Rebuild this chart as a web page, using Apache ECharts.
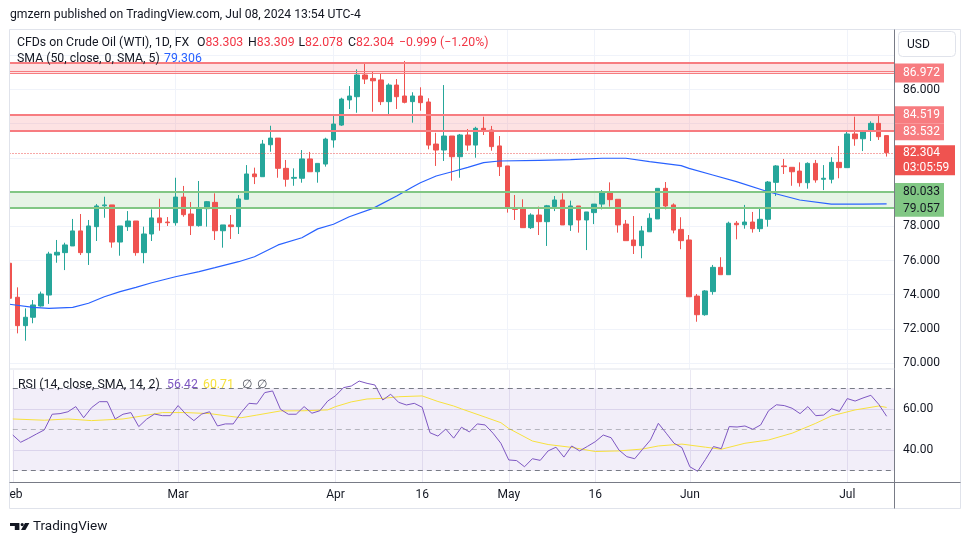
<!DOCTYPE html>
<html><head><meta charset="utf-8">
<script src="https://cdn.jsdelivr.net/npm/echarts@6/dist/echarts.min.js"></script>
<style>html,body{margin:0;padding:0;background:#fff}#c{width:970px;height:545px}</style>
</head><body><div id="c"></div>
<script>
// ---------- DATA ----------
const tradingDays = {
  Feb: [1,2,5,6,7,8,9,12,13,14,15,16,19,20,21,22,23,26,27,28,29],
  Mar: [1,4,5,6,7,8,11,12,13,14,15,18,19,20,21,22,25,26,27,28],
  Apr: [1,2,3,4,5,8,9,10,11,12,15,16,17,18,19,22,23,24,25,26,29,30],
  May: [1,2,3,6,7,8,9,10,13,14,15,16,17,20,21,22,23,24,27,28,29,30,31],
  Jun: [3,4,5,6,7,10,11,12,13,14,17,18,19,20,21,24,25,26,27,28],
  Jul: [1,2,3,4,5,8]
};
const timeTickLabels = {'Feb 1':'Feb','Mar 1':'Mar','Apr 1':'Apr','Apr 16':'16','May 1':'May','May 16':'16','Jun 3':'Jun','Jul 1':'Jul'};

const opens = [75.84,73.85,72.19,72.68,73.34,73.98,76.32,76.46,76.85,77.73,76.46,77.98,79.20,79.25,77.08,77.98,78.31,76.46,77.55,78.49,78.25,
  78.21,79.71,78.72,78.04,79.03,79.40,77.74,78.08,77.98,79.58,81.06,80.90,82.77,83.16,81.39,80.81,80.81,81.94,81.19,81.64,
  83.05,83.92,85.39,85.58,86.85,86.65,86.56,85.29,86.26,85.62,85.29,85.62,85.27,82.81,82.46,83.28,82.07,83.34,82.75,83.73,83.63,82.70,
  81.53,79.09,79.01,77.92,78.66,78.27,79.15,79.54,78.08,79.19,78.37,78.80,79.30,79.96,79.58,78.13,77.20,76.87,77.68,78.43,80.22,79.25,77.82,
  77.20,73.92,72.83,74.18,75.60,75.17,78.18,78.09,78.25,77.86,78.41,80.57,81.53,81.45,81.23,80.55,81.68,80.75,80.75,81.74,
  81.43,83.40,83.12,83.57,84.02,83.303];
const highs = [76.12,74.43,73.20,73.69,74.18,76.51,77.20,77.04,78.43,78.72,78.37,79.30,79.73,79.25,78.02,78.89,78.31,77.98,78.99,79.61,78.54,
  80.84,80.36,79.42,80.65,79.48,79.93,78.08,78.66,79.83,81.58,81.43,83.05,83.88,83.16,81.88,81.39,82.46,82.35,81.68,83.18,
  84.51,85.52,86.20,87.18,87.59,87.04,86.95,86.36,86.61,87.67,85.84,86.13,85.49,83.47,86.26,83.28,83.40,83.69,83.82,84.41,83.87,83.28,
  81.53,79.83,79.58,78.76,79.15,79.25,79.77,79.93,79.50,79.19,78.84,79.30,80.12,80.57,79.58,78.37,78.60,78.02,78.76,80.22,80.59,79.34,78.53,
  77.49,74.04,74.27,75.74,76.19,78.27,78.31,79.25,78.84,79.13,80.65,81.58,81.94,81.45,81.74,81.74,81.88,81.58,82.04,82.70,
  83.63,84.41,83.57,84.14,84.51,83.309];
const lows = [73.63,71.74,71.31,72.33,73.30,73.46,75.87,75.44,76.85,76.32,75.74,77.14,78.50,76.75,76.28,77.73,76.28,75.84,77.14,77.74,78.02,
  78.04,78.56,77.49,77.98,77.98,77.20,76.75,77.26,77.55,79.58,80.47,80.90,82.36,80.84,80.32,80.37,80.55,81.19,80.55,81.49,
  82.60,83.87,84.86,84.64,86.32,84.70,85.09,84.51,84.86,85.19,84.06,84.76,82.50,81.53,81.82,80.67,80.84,82.42,82.01,83.34,82.42,80.94,
  78.80,78.37,77.92,77.84,77.49,76.85,78.89,78.08,77.73,77.63,76.61,78.13,78.99,79.15,77.63,77.16,76.38,76.13,77.68,78.43,78.99,77.59,76.66,
  73.88,72.42,72.77,74.00,75.17,75.17,77.24,77.86,77.63,77.67,77.98,79.77,81.06,80.37,80.32,80.20,80.55,80.12,80.51,80.81,
  81.43,82.71,82.40,82.99,83.05,82.078];
const closes = [73.79,72.19,72.68,73.40,74.04,76.38,76.48,76.91,77.73,76.46,78.02,79.19,79.25,77.08,78.02,78.31,76.46,77.55,78.49,78.21,78.21,
  79.71,78.68,78.04,79.07,79.44,77.74,78.08,77.98,79.60,81.06,80.90,82.81,83.16,81.39,80.75,80.86,81.94,81.19,81.68,83.10,
  83.98,85.44,85.62,86.85,86.61,86.51,85.29,86.26,85.58,85.25,85.62,85.23,82.75,82.46,83.28,82.07,83.34,82.75,83.73,83.59,82.66,81.49,
  79.05,78.99,77.92,78.66,78.27,79.20,79.54,78.08,79.19,78.37,78.84,79.30,79.96,79.56,78.08,77.16,76.87,77.73,78.47,80.22,79.19,77.78,77.16,
  73.88,72.83,74.22,75.60,75.17,78.18,78.09,78.25,77.86,78.41,80.59,81.53,81.49,81.19,80.55,81.68,80.71,80.81,81.74,81.43,
  83.40,83.12,83.57,84.02,83.24,82.304];

// SMA(50) at sample candles: [candle index, value]
const sma50 = [[0,73.44],[3,73.26],[5,73.20],[8,73.26],[10,73.50],[12,73.88],[14,74.18],[16,74.43],[18,74.70],[21,75.05],[24,75.35],
  [26,75.58],[29,75.93],[31,76.22],[34,76.91],[37,77.33],[39,77.85],[41,78.12],[43,78.56],[46,79.05],[49,79.77],[51,80.30],[52,80.55],
  [54,80.94],[56,81.19],[58,81.45],[60,81.72],[62,81.82],[67,81.86],[71,81.90],[75,81.98],[78,81.98],[81,81.78],[85,81.55],[86,81.39],
  [89,81.00],[92,80.61],[96,80.02],[100,79.54],[104,79.30],[108,79.30],[111,79.306]];

const rsi14 = [47.3,43.8,45.7,47.8,49.8,57.4,57.7,58.6,61.1,55.7,60.6,63.5,63.5,55.1,57.4,58.2,51.4,55.0,57.5,56.7,56.7,
  61.6,57.4,54.3,57.5,58.6,51.7,52.7,52.7,58.2,62.7,62.4,67.9,68.7,59.8,57.4,57.4,61.1,57.9,59.1,63.8,
  66.4,70.3,71.1,73.5,72.4,71.6,64.3,67.1,63.2,61.9,62.7,60.8,48.4,46.8,50.2,45.8,51.1,48.8,52.7,52.2,48.2,43.3,
  35.2,34.9,31.9,35.8,35.0,39.6,41.4,36.6,42.0,39.6,41.8,44.1,47.3,46.0,40.0,36.8,35.8,40.4,44.9,53.0,48.2,43.3,41.2,
  31.9,29.7,35.5,41.7,40.7,51.4,51.2,51.7,50.1,52.2,59.1,62.0,61.6,60.3,57.7,61.1,56.7,57.0,60.1,58.8,
  65.0,63.8,65.3,66.6,62.2,56.42];
// RSI-based SMA(14) read at sample candles: [candle index, value]
const rsiMa = [[0,55.1],[4,54.5],[7,55.1],[10,54.3],[14,55.1],[17,56.9],[19,58.2],[22,58.2],[25,57.7],[29,55.7],[31,57.0],[34,59.0],
  [37,59.1],[40,59.5],[41,61.1],[43,63.4],[45,64.8],[47,65.1],[49,65.9],[52,66.3],[54,63.6],[56,61.4],[57,60.0],[60,56.0],[62,53.3],
  [63,50.5],[66,44.4],[68,42.7],[71,41.3],[74,39.3],[77,39.6],[80,40.5],[82,42.0],[85,42.9],[88,41.4],[90,40.4],[93,43.3],[96,44.9],
  [99,48.2],[102,53.0],[104,56.6],[107,59.5],[110,61.4],[111,60.71]];

const resistanceZones = [[86.972, 87.57], [83.532, 84.519]];
const supportZone = [79.057, 80.033];
const thickLevels = [87.57, 84.519];
const thinLevels = [87.04, 86.972, 83.60, 83.532];
const supportLevels = [80.033, 79.057];
const lastPrice = 82.304;
const countdown = '03:05:59';
const priceGridValues = [70,72,74,76,78,80,82,84,86,88];
const priceLabelValues = [70,72,74,76,78,86];
const rsiBands = {upper:70, middle:50, lower:30};
const rsiGridValues = [40,60];

// ---------- BUILD ----------
const categories = [];
Object.keys(tradingDays).forEach(m => tradingDays[m].forEach(d => categories.push(m + ' ' + d)));
categories.push(''); // right padding slot
const candleData = opens.map((o,i) => [o, closes[i], lows[i], highs[i]]);

const FONT = 'Roboto, "Liberation Sans", Arial, sans-serif';
const TXT = '#131722';
const RED = '#f23645', LRED = '#f77c80', GREEN = '#81c784';
const showTick = (i, v) => Object.prototype.hasOwnProperty.call(timeTickLabels, v);

const chart = echarts.init(document.getElementById('c'), null, {renderer:'canvas'});
const GL = 9.5, GR = 970 - 894.5;

const option = {
  animation: false,
  backgroundColor: '#ffffff',
  grid: [
    {left: GL, right: GR, top: 30, height: 339},
    {left: GL, right: GR, top: 370, height: 112}
  ],
  xAxis: [
    {type:'category', gridIndex:0, data:categories, boundaryGap:false,
     axisLine:{show:false}, axisTick:{show:false}, axisLabel:{show:false},
     splitLine:{show:true, interval:showTick, lineStyle:{color:'#f0f3fa', width:1}}},
    {type:'category', gridIndex:1, data:categories, boundaryGap:false,
     axisLine:{show:false}, axisTick:{show:false},
     axisLabel:{show:true, interval:showTick, formatter:v => timeTickLabels[v] || '', color:TXT, fontSize:12, fontFamily:FONT, margin:7},
     splitLine:{show:true, interval:showTick, lineStyle:{color:'#ebe9f3', width:1}}}
  ],
  yAxis: [
    {type:'value', gridIndex:0, position:'right', min:69.655, max:89.48, scale:true,
     axisLine:{show:false}, axisTick:{show:false, customValues:priceGridValues},
     axisLabel:{customValues:priceLabelValues, formatter:v => v.toFixed(3), color:TXT, fontSize:12, fontFamily:FONT, margin:8.5},
     splitLine:{show:true, lineStyle:{color:'#f0f3fa', width:1}}},
    {type:'value', gridIndex:1, position:'right', min:24.5, max:78.88,
     axisLine:{show:false}, axisTick:{show:false, customValues:rsiGridValues},
     axisLabel:{customValues:rsiGridValues, formatter:v => v.toFixed(2), color:TXT, fontSize:12, fontFamily:FONT, margin:8.5},
     splitLine:{show:true, lineStyle:{color:'#e6e2f1', width:1}}}
  ],
  series: [
    {
      type:'candlestick', xAxisIndex:0, yAxisIndex:0, data:candleData, barWidth:5,
      itemStyle:{color:'#26a69a', color0:'#ef5350', borderColor:'#26a69a', borderColor0:'#ef5350', borderWidth:1},
      markArea:{silent:true, data:[
        [{yAxis:resistanceZones[0][0], itemStyle:{color:'rgba(247,124,128,0.22)'}}, {yAxis:resistanceZones[0][1]}],
        [{yAxis:resistanceZones[1][0], itemStyle:{color:'rgba(247,124,128,0.22)'}}, {yAxis:resistanceZones[1][1]}],
        [{yAxis:supportZone[0], itemStyle:{color:'rgba(129,199,132,0.2)'}}, {yAxis:supportZone[1]}]
      ]},
      markLine:{silent:true, symbol:['none','none'], label:{show:false}, data:[
        ...thickLevels.map(v => ({yAxis:v, lineStyle:{color:LRED, width:2, type:'solid'}})),
        ...thinLevels.map(v => ({yAxis:v, lineStyle:{color:LRED, width:1, type:'solid'}})),
        ...supportLevels.map(v => ({yAxis:v, lineStyle:{color:GREEN, width:2, type:'solid'}})),
        {yAxis:lastPrice, lineStyle:{color:'#ef5350', width:1, type:[1,2]}}
      ]}
    },
    {
      type:'line', xAxisIndex:0, yAxisIndex:0, data:sma50, showSymbol:false, symbol:'none',
      lineStyle:{color:'#2962ff', width:1.2}, z:3
    },
    {
      type:'line', xAxisIndex:1, yAxisIndex:1, data:rsi14, showSymbol:false, symbol:'none',
      lineStyle:{color:'#7e57c2', width:1}, z:4,
      markArea:{silent:true, data:[[{yAxis:rsiBands.lower, itemStyle:{color:'rgba(126,87,194,0.1)'}}, {yAxis:rsiBands.upper}]]},
      markLine:{silent:true, symbol:['none','none'], label:{show:false}, data:[
        {yAxis:rsiBands.upper, lineStyle:{color:'#787b86', width:1, type:[5,4]}},
        {yAxis:rsiBands.middle, lineStyle:{color:'rgba(120,123,134,0.5)', width:1, type:[5,4]}},
        {yAxis:rsiBands.lower, lineStyle:{color:'#787b86', width:1, type:[5,4]}}
      ]}
    },
    {
      type:'line', xAxisIndex:1, yAxisIndex:1, data:rsiMa, showSymbol:false, symbol:'none',
      lineStyle:{color:'#f7e13d', width:1}, z:3
    }
  ]
};
chart.setOption(option);

// ---------- DECORATION / TEXT ----------
const g = [];
const txt = (x, y, text, fill, size, extra) => g.push(Object.assign({type:'text', z:110, silent:true,
  style:{x, y, text, fill, font: (size||12) + 'px ' + FONT, verticalAlign:'middle', align:'left'}}, extra||{}));

// mask left of pane (clips first candle and Feb label) and frame
g.push({type:'rect', z:105, silent:true, shape:{x:0, y:28, width:9.5, height:482}, style:{fill:'#fff'}});
g.push({type:'rect', z:106, silent:true, shape:{x:9.5, y:29.5, width:951, height:479}, style:{fill:null, stroke:'#e0e3eb', lineWidth:1}});
g.push({type:'line', z:106, silent:true, shape:{x1:894.5, y1:29.5, x2:894.5, y2:508.5}, style:{stroke:'#787b86', lineWidth:1}});
g.push({type:'line', z:106, silent:true, shape:{x1:9.5, y1:482.5, x2:960.5, y2:482.5}, style:{stroke:'#787b86', lineWidth:1}});
g.push({type:'line', z:106, silent:true, shape:{x1:9.5, y1:369, x2:894.5, y2:369}, style:{stroke:'#e0e3eb', lineWidth:1}});

// USD button
g.push({type:'rect', z:106, silent:true, shape:{x:898.5, y:31.5, width:57, height:25, r:4}, style:{fill:'#fff', stroke:'#e0e3eb', lineWidth:1}});
txt(907, 44.5, 'USD', TXT, 12);

const LF = 12.3;
// header
txt(10, 15, 'gmzern published on TradingView.com, Jul 08, 2024 13:54 UTC-4', TXT, 12.2);
// legend line 1
txt(17, 42.5, 'CFDs on Crude Oil (WTI), 1D, FX', TXT, LF);
const ohlc = [['O','83.303',197],['H','83.309',248],['L','82.078',298.5],['C','82.304',348]];
ohlc.forEach(([k,v,x]) => g.push({type:'text', z:110, silent:true, style:{x, y:42.5, verticalAlign:'middle',
  text:'{k|'+k+'}{v|'+v+'}', font:LF+'px '+FONT, rich:{k:{fill:TXT, font:LF+'px '+FONT}, v:{fill:RED, font:LF+'px '+FONT}}}}));
txt(399, 42.5, '\u22120.999 (\u22121.20%)', RED, LF);
// legend line 2
txt(17, 59, 'SMA (50, close, 0, SMA, 5)', TXT, LF);
txt(164, 59, '79.306', '#2962ff', LF);
// RSI legend
txt(18, 385, 'RSI (14, close, SMA, 14, 2)', TXT, LF);
txt(167, 385, '56.42', '#7e57c2', LF);
txt(203, 385, '60.71', '#f7e13d', LF);
txt(242, 385, '\u2205', '#50535e', LF);
txt(257, 385, '\u2205', '#50535e', LF);

// footer logo
g.push({type:'polygon', z:110, silent:true, shape:{points:[[10,523],[19.4,523],[19.4,530],[14.8,530],[14.8,526],[10,526]]}, style:{fill:'#131722'}});
g.push({type:'circle', z:110, silent:true, shape:{cx:22.2, cy:524.6, r:1.6}, style:{fill:'#131722'}});
g.push({type:'polygon', z:110, silent:true, shape:{points:[[25,523],[29.4,523],[25.4,530],[21,530]]}, style:{fill:'#131722'}});
txt(33, 527, 'TradingView', TXT, 13.5);

// price-axis badges positioned from the y scale
const yPix = v => chart.convertToPixel({yAxisIndex:0}, v);
const badges = [
  {v:86.972, bg:LRED, fg:'#fff', h:19},
  {v:84.519, bg:LRED, fg:'#fff', h:17},
  {v:83.532, bg:LRED, fg:'#fff', h:17},
  {v:80.033, bg:GREEN, fg:TXT, h:17},
  {v:79.057, bg:GREEN, fg:TXT, h:17}
];
badges.forEach(b => {
  const y = yPix(b.v);
  g.push({type:'rect', z:107, silent:true, shape:{x:895, y:y - b.h/2, width:49, height:b.h}, style:{fill:b.bg}});
  txt(903, y + 0.5, b.v.toFixed(3), b.fg, 12);
});
const ly = yPix(lastPrice);
g.push({type:'rect', z:107, silent:true, shape:{x:895, y:ly - 7.5, width:60, height:30}, style:{fill:'#ef5350'}});
txt(903, ly + 0.5, lastPrice.toFixed(3), '#fff', 12);
txt(903, ly + 15.5, countdown, '#fff', 12);

chart.setOption({graphic: g});
</script>
</body></html>
